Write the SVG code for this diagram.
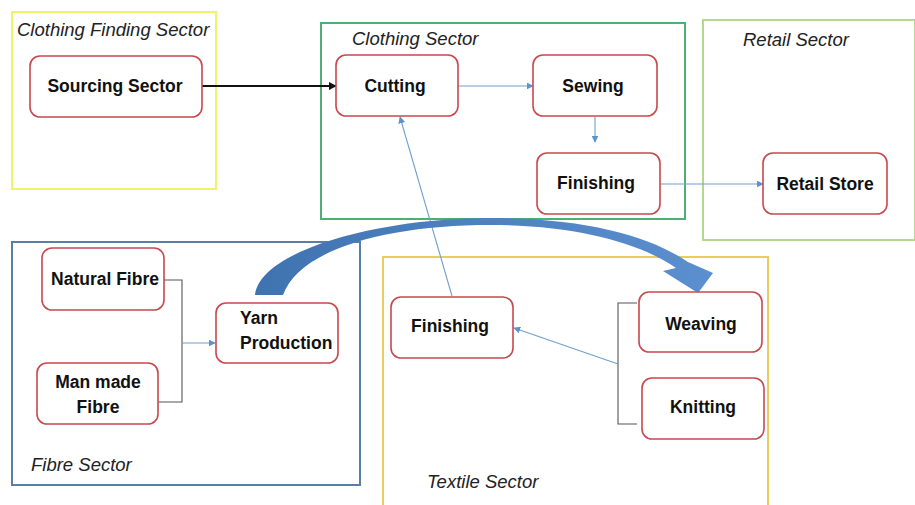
<svg xmlns="http://www.w3.org/2000/svg" width="915" height="505" viewBox="0 0 915 505">
  <defs>
    <marker id="blueHead" viewBox="0 0 10 10" refX="9" refY="5" markerWidth="7" markerHeight="7" markerUnits="userSpaceOnUse" orient="auto">
      <path d="M0,0 L10,5 L0,10 Z" fill="#5b93cc"/>
    </marker>
    <marker id="blackHead" viewBox="0 0 10 10" refX="9" refY="5" markerWidth="8" markerHeight="8" markerUnits="userSpaceOnUse" orient="auto">
      <path d="M0,0 L10,5 L0,10 Z" fill="#111"/>
    </marker>
    <linearGradient id="bigArrow" x1="0" y1="0" x2="1" y2="0">
      <stop offset="0" stop-color="#3f73b0"/>
      <stop offset="1" stop-color="#5b8fd0"/>
    </linearGradient>
  </defs>
  <style>
    .sector { fill: none; stroke-width: 2; }
    .sector-label { font-family: "Liberation Sans", Arial, sans-serif; font-style: italic; font-size: 18.5px; fill: #222; }
    .node rect { fill: #fff; stroke: #c9484e; stroke-width: 1.6; }
    .node text { font-family: "Liberation Sans", Arial, sans-serif; font-weight: bold; font-size: 17.5px; fill: #111; }
    .flow { fill: none; stroke: #6f9fcf; stroke-width: 1.1; }
    .brace { fill: none; stroke: #555; stroke-width: 1.1; }
  </style>

  <rect width="915" height="505" fill="#fff"/>

  <!-- sector frames -->
  <g id="sectors">
    <rect class="sector" x="12" y="12" width="204" height="177" stroke="#f3f06a"/>
    <text class="sector-label" x="17" y="36">Clothing Finding Sector</text>
    <rect class="sector" x="321" y="23" width="364" height="196" stroke="#4fae72"/>
    <text class="sector-label" x="352" y="45">Clothing Sector</text>
    <rect class="sector" x="703" y="20" width="212" height="220" stroke="#b5d88c"/>
    <text class="sector-label" x="743" y="46">Retail Sector</text>
    <rect class="sector" x="12" y="242" width="348" height="243" stroke="#5b7ea6" stroke-width="1.5"/>
    <text class="sector-label" x="31" y="471">Fibre Sector</text>
    <rect class="sector" x="383" y="257" width="385" height="252" stroke="#e8cf5c"/>
    <text class="sector-label" x="427" y="488">Textile Sector</text>
  </g>

  <!-- connectors -->
  <g id="connectors">
    <line x1="202" y1="86" x2="336" y2="86" stroke="#111" stroke-width="2" marker-end="url(#blackHead)"/>
    <line class="flow" x1="458" y1="86" x2="533" y2="86" marker-end="url(#blueHead)"/>
    <line class="flow" x1="595" y1="117" x2="595" y2="142" marker-end="url(#blueHead)"/>
    <line class="flow" x1="660" y1="184" x2="763" y2="184" marker-end="url(#blueHead)"/>
    <line class="flow" x1="452" y1="296" x2="400" y2="117" marker-end="url(#blueHead)"/>
    <path class="brace" d="M164,280 H182 V402 H158"/>
    <line class="flow" x1="182" y1="343" x2="215" y2="343" marker-end="url(#blueHead)"/>
    <path class="brace" d="M637,303 H618 V424 H637"/>
    <line class="flow" x1="618" y1="364" x2="514" y2="328" marker-end="url(#blueHead)"/>
    <path d="M255,295 C260,250 380,218 490,218 C585,218 650,236 688,262 L713,273 L698,293 L663,271 L676,268 C640,243 575,225 490,225 C390,225 300,248 283,295 Z" fill="url(#bigArrow)"/>
  </g>

  <!-- nodes -->
  <g id="sourcing" class="node">
    <rect x="30" y="56" width="172" height="61" rx="10"/>
    <text x="115" y="92" text-anchor="middle">Sourcing Sector</text>
  </g>
  <g id="cutting" class="node">
    <rect x="336" y="55" width="122" height="61" rx="10"/>
    <text x="395" y="92" text-anchor="middle">Cutting</text>
  </g>
  <g id="sewing" class="node">
    <rect x="533" y="55" width="124" height="61" rx="10"/>
    <text x="593" y="92" text-anchor="middle">Sewing</text>
  </g>
  <g id="clothing-finishing" class="node">
    <rect x="537" y="153" width="123" height="61" rx="10"/>
    <text x="596" y="189" text-anchor="middle">Finishing</text>
  </g>
  <g id="retail-store" class="node">
    <rect x="763" y="153" width="124" height="61" rx="10"/>
    <text x="825" y="190" text-anchor="middle">Retail Store</text>
  </g>
  <g id="natural-fibre" class="node">
    <rect x="42" y="248" width="122" height="62" rx="10"/>
    <text x="105" y="285" text-anchor="middle">Natural Fibre</text>
  </g>
  <g id="man-made-fibre" class="node">
    <rect x="37" y="363" width="121" height="61" rx="10"/>
    <text x="98" y="388" text-anchor="middle">Man made</text>
    <text x="98" y="413" text-anchor="middle">Fibre</text>
  </g>
  <g id="yarn-production" class="node">
    <rect x="216" y="303" width="122" height="60" rx="10"/>
    <text x="240" y="324">Yarn</text>
    <text x="240" y="349">Production</text>
  </g>
  <g id="textile-finishing" class="node">
    <rect x="391" y="297" width="122" height="61" rx="10"/>
    <text x="450" y="332" text-anchor="middle">Finishing</text>
  </g>
  <g id="weaving" class="node">
    <rect x="639" y="292" width="123" height="60" rx="10"/>
    <text x="701" y="330" text-anchor="middle">Weaving</text>
  </g>
  <g id="knitting" class="node">
    <rect x="642" y="378" width="122" height="61" rx="10"/>
    <text x="703" y="413" text-anchor="middle">Knitting</text>
  </g>
</svg>
